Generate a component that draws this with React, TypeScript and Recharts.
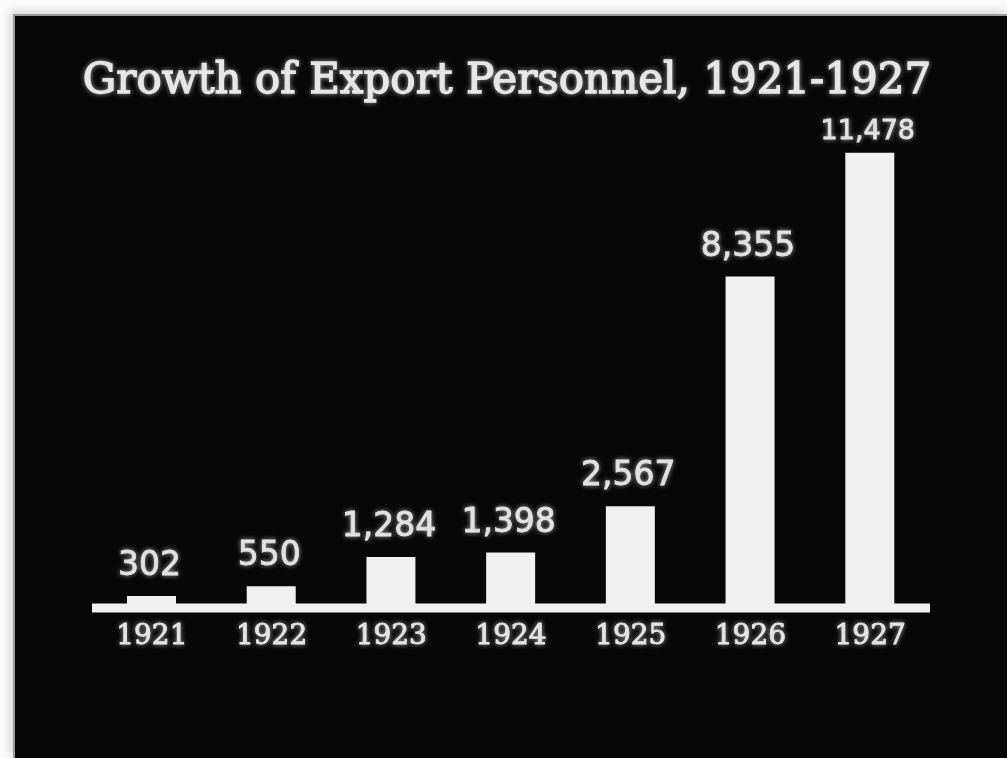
import { Bar, BarChart, LabelList, XAxis, YAxis } from "recharts";

const years = ["1921", "1922", "1923", "1924", "1925", "1926", "1927"];
const personnel = [302, 550, 1284, 1398, 2567, 8355, 11478];

const data = years.map((year, i) => ({ year, personnel: personnel[i] }));
const maxValue = Math.max(...personnel);

const glow = "drop-shadow(0 0 2.5px rgba(255,255,255,0.6))";

const YearTick = (props: any) => {
  const { x, y, payload } = props;
  return (
    <text
      x={x}
      y={y}
      dy={36}
      textAnchor="middle"
      fill="#e4e4e4"
      stroke="#e4e4e4"
      strokeWidth={0.9}
      style={{ fontFamily: "DejaVu Serif", fontSize: 28, filter: glow }}
    >
      {payload.value}
    </text>
  );
};

const ValueLabel = (props: any) => {
  const { x, y, width, value } = props;
  const top = value === maxValue; // crowded under the title, drawn smaller
  return (
    <text
      x={Number(x) + Number(width) / 2 - 2}
      y={Number(y) - (top ? 14 : 21)}
      textAnchor="middle"
      fill="#e2e2e2"
      stroke="#e2e2e2"
      strokeWidth={0.8}
      style={{ fontFamily: "DejaVu Sans", fontSize: top ? 27 : 33, filter: glow }}
    >
      {Number(value).toLocaleString("en-US")}
    </text>
  );
};

export default function App() {
  return (
    <div
      style={{
        position: "absolute",
        left: 0,
        top: 0,
        width: 1007,
        height: 758,
        background: "#fafafa",
        overflow: "hidden",
      }}
    >
      <div
        style={{
          position: "absolute",
          left: 13,
          top: 14,
          right: 0,
          bottom: 0,
          background: "#070707",
          borderLeft: "2px solid #9a9a9a",
          borderTop: "2px solid #9a9a9a",
          boxShadow: "-3px -3px 8px rgba(0,0,0,0.15)",
        }}
      />
      <svg
        width={1007}
        height={758}
        style={{ position: "absolute", left: 0, top: 0 }}
      >
        <text
          x={507}
          y={93}
          textAnchor="middle"
          fill="#e6e6e6"
          stroke="#e6e6e6"
          strokeWidth={1.3}
          style={{ fontFamily: "DejaVu Serif", fontSize: 42, filter: glow }}
        >
          Growth of Export Personnel, 1921-1927
        </text>
      </svg>
      <div style={{ position: "absolute", left: 0, top: 0 }}>
        <BarChart
          width={1007}
          height={758}
          data={data}
          margin={{ top: 132, right: 77, left: 92, bottom: 110 }}
        >
          <XAxis
            dataKey="year"
            height={40}
            tickSize={0}
            tickMargin={0}
            tickLine={false}
            axisLine={{ stroke: "#f0f0f0", strokeWidth: 9 }}
            tick={<YearTick />}
            interval={0}
          />
          <YAxis hide domain={[0, 12000]} />
          <Bar
            dataKey="personnel"
            fill="#f0f0f0"
            barSize={49}
            isAnimationActive={false}
          >
            <LabelList dataKey="personnel" content={<ValueLabel />} />
          </Bar>
        </BarChart>
      </div>
    </div>
  );
}
